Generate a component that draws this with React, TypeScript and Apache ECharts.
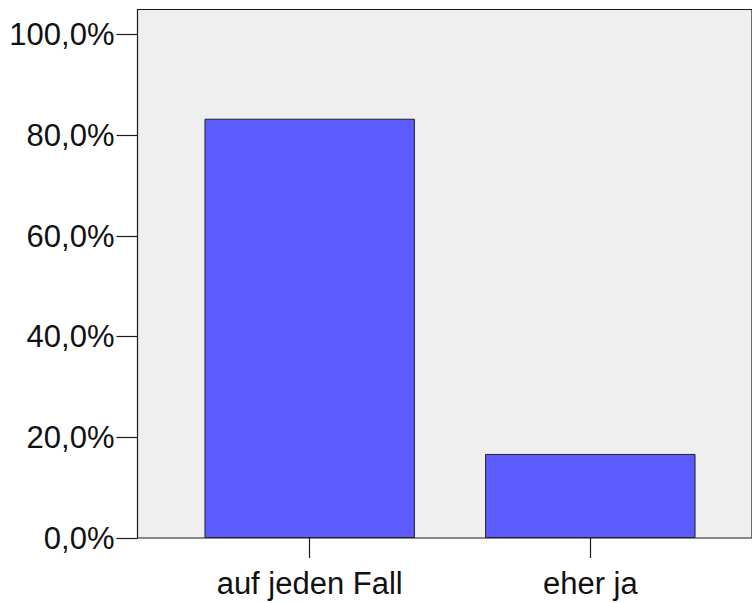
import React, { useEffect, useRef } from "react";
import * as echarts from "echarts";

const categories = ["auf jeden Fall", "eher ja"];
const percentValues = [83.3, 16.7];
const yTickValues = [0, 20, 40, 60, 80, 100];

const FONT = "'Liberation Sans', Arial, Helvetica, sans-serif";

export default function App() {
  const ref = useRef<HTMLDivElement>(null);
  useEffect(() => {
    if (!ref.current) return;
    const chart = echarts.init(ref.current, undefined, { renderer: "svg" });
    const top = 9.5;
    const height = 528.5;
    chart.setOption({
      animation: false,
      grid: [
        {
          left: 137.5,
          top,
          height,
          width: 700,
          show: true,
          backgroundColor: "#efefef",
          borderColor: "#1a1a1a",
          borderWidth: 1.2,
        },
        {
          left: 169.4,
          top,
          height,
          width: 561.2,
          show: false,
        },
      ],
      xAxis: [
        { type: "value", gridIndex: 0, show: false, min: 0, max: 1 },
        {
          type: "category",
          gridIndex: 1,
          data: categories,
          axisLine: { show: false },
          axisTick: {
            show: true,
            alignWithLabel: true,
            length: 20,
            lineStyle: { color: "#1a1a1a", width: 1.2 },
          },
          axisLabel: {
            margin: 30,
            fontSize: 31,
            lineHeight: 31,
            color: "#111",
            fontFamily: FONT,
          },
        },
      ],
      yAxis: [
        {
          type: "value",
          gridIndex: 0,
          min: 0,
          max: 105,
          interval: 20,
          splitLine: { show: false },
          axisLine: { show: false },
          axisTick: {
            show: true,
            length: 21,
            customValues: yTickValues,
            lineStyle: { color: "#1a1a1a", width: 1.2 },
          },
          axisLabel: {
            margin: 23,
            fontSize: 31,
            color: "#111",
            fontFamily: FONT,
            customValues: yTickValues,
            formatter: (v: number) => v.toFixed(1).replace(".", ",") + "%",
          },
        },
        { type: "value", gridIndex: 1, min: 0, max: 105, show: false },
      ],
      series: [
        {
          type: "bar",
          xAxisIndex: 1,
          yAxisIndex: 1,
          data: percentValues,
          barWidth: "75%",
          itemStyle: {
            color: "#5b5bff",
            borderColor: "#222",
            borderWidth: 1,
          },
        },
      ],
    });
    return () => chart.dispose();
  }, []);
  return <div ref={ref} style={{ width: 752, height: 603, position: "absolute", left: 0, top: 0 }} />;
}
